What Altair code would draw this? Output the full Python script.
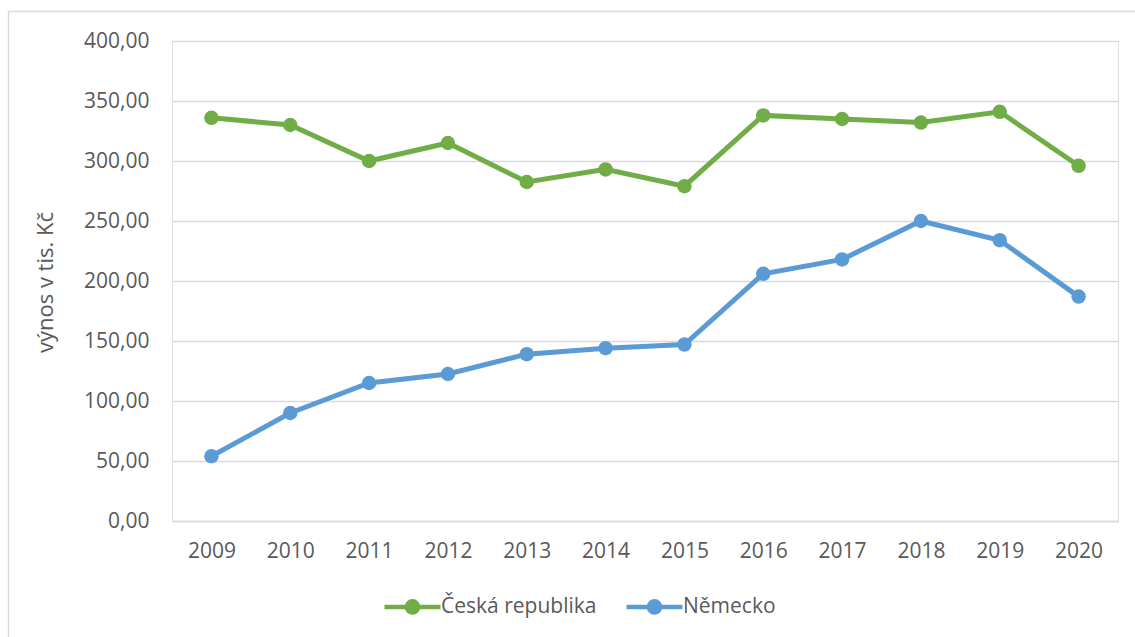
import altair as alt
import pandas as pd

years = ["2009", "2010", "2011", "2012", "2013", "2014", "2015", "2016", "2017", "2018", "2019", "2020"]
cz = [336, 330, 300, 315, 282.5, 293, 279, 338, 335, 332, 341, 296]
de = [54, 90, 115, 122.5, 139, 144, 147, 206, 218, 250, 234, 187]
series_names = ["Česká republika", "Německo"]
series_colors = ["#70AD47", "#5B9BD5"]
y_ticks = [0, 50, 100, 150, 200, 250, 300, 350, 400]

rows = []
for name, vals in zip(series_names, [cz, de]):
    for yr, v in zip(years, vals):
        rows.append({"rok": yr, "výnos": v, "země": name})
df = pd.DataFrame(rows)

FONT = "Open Sans"
LBL = "#595959"
FS = 21

color = alt.Color(
    "země:N",
    scale=alt.Scale(domain=series_names, range=series_colors),
    legend=alt.Legend(
        title=None,
        orient="none",
        direction="horizontal",
        legendX=230,
        legendY=74 + 480 + 1,
        symbolType="M-4,0H4M-0.8,0A0.8,0.8 0 1,0 0.8,0A0.8,0.8 0 1,0 -0.8,0",
        symbolSize=196,
        symbolStrokeWidth=4.5,
        labelOffset=18,
        columnPadding=20,
        labelFont=FONT,
        labelFontSize=FS,
        labelColor=LBL,
        labelLimit=300,
    ),
)

x = alt.X(
    "rok:O",
    sort=years,
    title=None,
    axis=alt.Axis(
        labelAngle=0,
        labelFont=FONT,
        labelFontSize=FS,
        labelColor=LBL,
        labelPadding=19,
        ticks=False,
        domain=True,
        domainColor="#d9d9d9",
        domainWidth=1.5,
        grid=False,
    ),
)
y = alt.Y(
    "výnos:Q",
    scale=alt.Scale(domain=[0, 400], nice=False),
    title="výnos v tis. Kč",
    axis=alt.Axis(
        values=y_ticks,
        labelExpr="replace(format(datum.value, '.2f'), '.', ',')",
        labelFont=FONT,
        labelFontSize=FS,
        labelColor=LBL,
        labelPadding=23,
        ticks=False,
        domain=False,
        gridColor="#d9d9d9",
        gridWidth=1.5,
        titleFont=FONT,
        titleFontSize=22,
        titleFontWeight="normal",
        titleColor=LBL,
        titleAngle=270,
        titleX=-127,
        titleY=241,
        titleAlign="center",
        titleBaseline="middle",
    ),
)

base = alt.Chart(df).encode(x=x, y=y, color=color)
lines = base.mark_line(strokeWidth=5)
points = base.mark_circle(size=210, opacity=1)

border = alt.Chart(pd.DataFrame({"a": [0]})).mark_rect(
    fill=None, stroke="#d9d9d9", strokeWidth=1.5
).encode(
    x=alt.value(-163.5), x2=alt.value(1000), y=alt.value(-29.5), y2=alt.value(700)
)

chart = alt.layer(border, lines, points).properties(
    width=946,
    height=480,
    padding={"left": 172, "top": 41, "right": 17, "bottom": 116},
    autosize=alt.AutoSizeParams(type="none"),
).configure_view(stroke=None).configure(background="white")

chart.save("out.html", embed_options={"renderer": "svg", "actions": False})
